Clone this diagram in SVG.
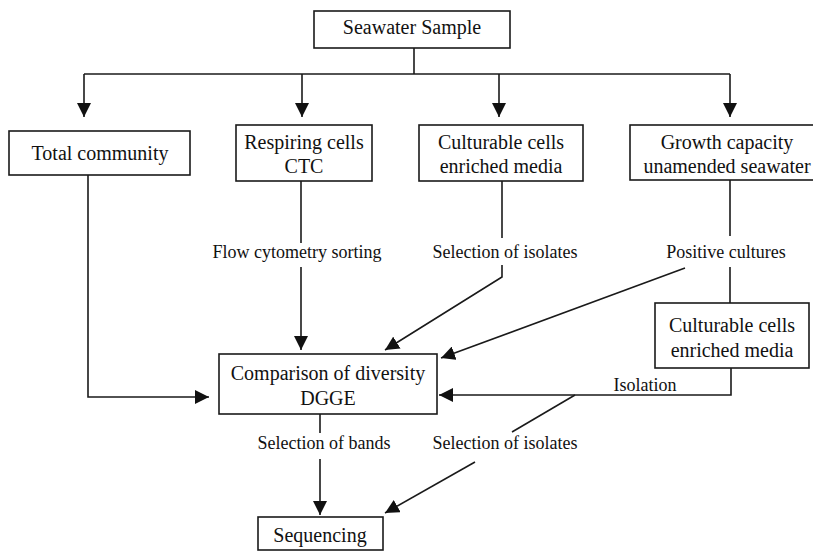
<svg xmlns="http://www.w3.org/2000/svg" width="813" height="551" viewBox="0 0 813 551">
<style>
.box{fill:#fff;stroke:#1a1a1a;stroke-width:1.6}
.t{font-family:"Liberation Serif","Times New Roman",serif;font-size:20px;fill:#111;text-anchor:middle}
.l{font-family:"Liberation Serif","Times New Roman",serif;font-size:18px;fill:#111;text-anchor:middle}
.c{fill:none;stroke:#1a1a1a;stroke-width:1.6}
</style>
<defs>
<marker id="ah" markerUnits="userSpaceOnUse" markerWidth="14" markerHeight="14" refX="14" refY="7" orient="auto">
<path d="M0,0 L14,7 L0,14 z" fill="#111"/>
</marker>
</defs>
<rect width="813" height="551" fill="#fff"/>
<g id="connectors">
<path class="c" d="M414,48 V74"/>
<path class="c" d="M84,74 H730"/>
<path class="c" d="M84,74 V117" marker-end="url(#ah)"/>
<path class="c" d="M302,74 V117" marker-end="url(#ah)"/>
<path class="c" d="M499,74 V117" marker-end="url(#ah)"/>
<path class="c" d="M730,74 V117" marker-end="url(#ah)"/>
<path class="c" d="M88,175 V397 H209" marker-end="url(#ah)"/>
<path class="c" d="M301,181 V243"/>
<path class="c" d="M301,267 V350" marker-end="url(#ah)"/>
<path class="c" d="M502,181 V238"/>
<path class="c" d="M502,265 V277 L385,350" marker-end="url(#ah)"/>
<path class="c" d="M730,180 V236"/>
<path class="c" d="M730,267 V303"/>
<path class="c" d="M685,268 L441,358" marker-end="url(#ah)"/>
<path class="c" d="M731,368 V395 H439" marker-end="url(#ah)"/>
<path class="c" d="M575,395 L512,432"/>
<path class="c" d="M475,462 L385,513" marker-end="url(#ah)"/>
<path class="c" d="M320,414 V433"/>
<path class="c" d="M320,459 V515" marker-end="url(#ah)"/>
</g>
<g id="labels">
<text class="l" x="297" y="258">Flow cytometry sorting</text>
<text class="l" x="505" y="258">Selection of isolates</text>
<text class="l" x="726" y="258">Positive cultures</text>
<text class="l" x="645" y="391">Isolation</text>
<text class="l" x="324" y="449">Selection of bands</text>
<text class="l" x="505" y="449">Selection of isolates</text>
</g>
<g id="seawater">
<rect class="box" x="314" y="11" width="196" height="37"/>
<text class="t" x="412" y="34">Seawater Sample</text>
</g>
<g id="total">
<rect class="box" x="9" y="131" width="181" height="44"/>
<text class="t" x="100" y="160">Total community</text>
</g>
<g id="respiring">
<rect class="box" x="236" y="125" width="136" height="56"/>
<text class="t" x="304" y="149">Respiring cells</text>
<text class="t" x="304" y="173">CTC</text>
</g>
<g id="culturable1">
<rect class="box" x="419" y="125" width="164" height="56"/>
<text class="t" x="501" y="149">Culturable cells</text>
<text class="t" x="501" y="173">enriched media</text>
</g>
<g id="growth">
<rect class="box" x="630" y="125" width="195" height="55"/>
<text class="t" x="727" y="149">Growth capacity</text>
<text class="t" x="727" y="173">unamended seawater</text>
</g>
<g id="culturable2">
<rect class="box" x="655" y="303" width="154" height="65"/>
<text class="t" x="732" y="332">Culturable cells</text>
<text class="t" x="732" y="357">enriched media</text>
</g>
<g id="comparison">
<rect class="box" x="219" y="354" width="218" height="60"/>
<text class="t" x="328" y="380">Comparison of diversity</text>
<text class="t" x="328" y="405">DGGE</text>
</g>
<g id="sequencing">
<rect class="box" x="258" y="517" width="125" height="33"/>
<text class="t" x="320" y="542">Sequencing</text>
</g>
</svg>
